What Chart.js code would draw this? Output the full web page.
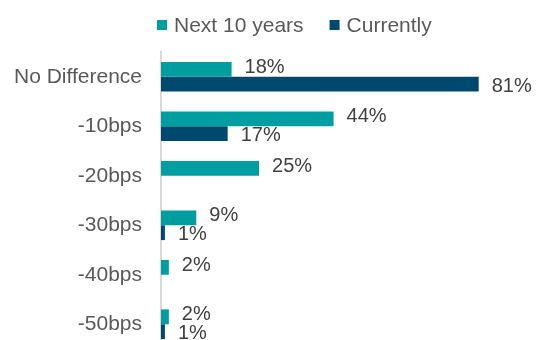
<!DOCTYPE html>
<html>
<head>
<meta charset="utf-8">
<script src="https://cdn.jsdelivr.net/npm/chart.js@4/dist/chart.umd.min.js"></script>
<style>
    html, body { margin: 0; padding: 0; background: #fff; overflow: hidden; width: 539px; height: 340px; }
    canvas { display: block; }
</style>
</head>
<body>
<canvas id="rates" width="539" height="350"></canvas>
<script>
// Data
const categories = ['No Difference', '-10bps', '-20bps', '-30bps', '-40bps', '-50bps'];
const next10Years = [18, 44, 25, 9, 2, 2];
const currently = [81, 17, null, 1, null, 1];
const seriesNames = ['Next 10 years', 'Currently'];

const TEAL = '#009ea0';
const NAVY = '#00496e';
const FONT = "'Liberation Sans', Arial, sans-serif";

// value labels at the end of each bar
const valueLabels = {
    id: 'valueLabels',
    afterDatasetsDraw(chart) {
        const ctx = chart.ctx;
        ctx.save();
        ctx.font = '20px ' + FONT;
        ctx.fillStyle = '#404040';
        ctx.textAlign = 'left';
        ctx.textBaseline = 'middle';
        chart.data.datasets.forEach((ds, i) => {
            const meta = chart.getDatasetMeta(i);
            meta.data.forEach((bar, j) => {
                const v = ds.data[j];
                if (v === null || v === undefined) return;
                const nudge = i === 0 ? -2 : 2;
                ctx.fillText(v + '%', bar.x + 13, bar.y + nudge);
            });
        });
        ctx.restore();
    }
};

// legend drawn by hand so the spacing matches
const topLegend = {
    id: 'topLegend',
    afterDraw(chart) {
        const ctx = chart.ctx;
        ctx.save();
        ctx.font = '21px ' + FONT;
        ctx.textBaseline = 'middle';
        let x = 157;
        const y = 25;
        chart.data.datasets.forEach((ds) => {
            ctx.fillStyle = ds.backgroundColor;
            ctx.fillRect(x, y - 5, 10, 10);
            x += 17;
            ctx.fillStyle = '#595959';
            ctx.fillText(ds.label, x, y + 1);
            x += ctx.measureText(ds.label).width + 26;
        });
        ctx.restore();
    }
};

new Chart(document.getElementById('rates'), {
    type: 'bar',
    data: {
        labels: categories,
        datasets: [
            {
                label: seriesNames[0],
                data: next10Years,
                backgroundColor: TEAL,
                borderWidth: 0,
                categoryPercentage: 0.6,
                barPercentage: 1.0
            },
            {
                label: seriesNames[1],
                data: currently,
                backgroundColor: NAVY,
                borderWidth: 0,
                categoryPercentage: 0.6,
                barPercentage: 1.0
            }
        ]
    },
    options: {
        indexAxis: 'y',
        responsive: false,
        animation: false,
        devicePixelRatio: 1,
        layout: {
            padding: { top: 52, right: 25, bottom: 1, left: 0 }
        },
        plugins: {
            legend: { display: false },
            tooltip: { enabled: false }
        },
        scales: {
            x: {
                display: false,
                min: 0,
                max: 90
            },
            y: {
                grid: { display: false, drawTicks: false },
                border: { display: true, color: '#d9d9d9', width: 2 },
                ticks: {
                    color: '#595959',
                    font: { family: FONT, size: 21 },
                    padding: 19
                },
                afterFit(scale) {
                    scale.width = 161;
                    scale.paddingTop = 0;
                    scale.paddingBottom = 0;
                }
            }
        }
    },
    plugins: [valueLabels, topLegend]
});
</script>
</body>
</html>
